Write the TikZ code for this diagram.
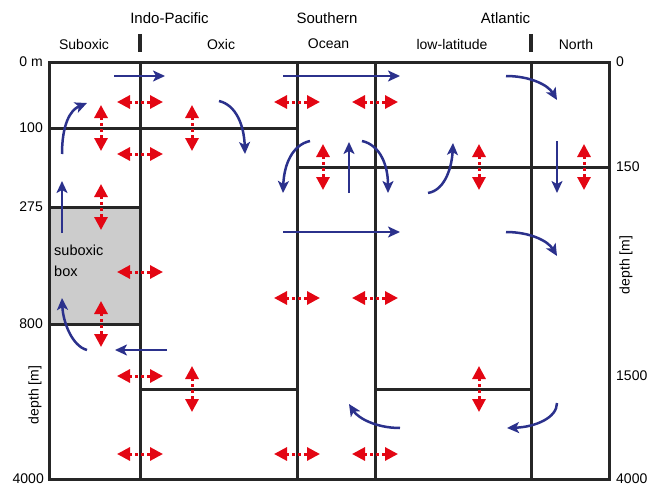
\documentclass[tikz,border=0pt]{standalone}
\usepackage{fontspec}
\setmainfont{Liberation Sans}
\usetikzlibrary{arrows.meta}
\definecolor{navy}{RGB}{43,49,140}
\definecolor{rd}{RGB}{227,6,19}
\definecolor{boxgray}{RGB}{204,204,204}
\tikzset{
  wall/.style={line width=3pt, black!85},
  blue arrow/.style={navy, line width=2.5pt, -{Stealth[length=12pt,width=11pt,inset=3pt]}},
  mix/.style={rd, line width=3pt, dash pattern=on 3pt off 3pt,
     {Triangle[length=13pt,width=13pt]}-{Triangle[length=13pt,width=13pt]}},
  lab/.style={font=\fontsize{14}{16}\selectfont, inner sep=0pt},
  head/.style={font=\fontsize{15}{17}\selectfont, inner sep=0pt},
}
\newcommand{\hmix}[2]{\draw[mix] (#1-23,#2) -- (#1+23,#2);}
\newcommand{\vmix}[2]{\draw[mix] (#1,#2-23) -- (#1,#2+23);}
\begin{document}
\begin{tikzpicture}[x=1pt,y=-1pt]
\useasboundingbox (0,0) rectangle (658,487);
% suboxic box fill
\fill[boxgray] (49,207) rectangle (140,324);
% outer box and walls
\draw[wall] (49,63) rectangle (609,479);
\draw[wall] (140,63) -- (140,479);
\draw[wall] (297,63) -- (297,479);
\draw[wall] (375,63) -- (375,479);
\draw[wall] (531,63) -- (531,479);
\draw[wall] (49,128) -- (297,128);
\draw[wall] (297,167) -- (609,167);
\draw[wall] (49,207) -- (140,207);
\draw[wall] (49,324) -- (140,324);
\draw[wall] (140,389) -- (297,389);
\draw[wall] (375,389) -- (531,389);
% header ticks
\draw[wall, line width=3.5pt] (140,34) -- (140,52);
\draw[wall, line width=3.5pt] (531,34) -- (531,52);
% headers
\node[head] (hip) at (169.5,18) {Indo-Pacific};
\node[head] (hso) at (327,18) {Southern};
\node[head] (hat) at (505.5,18) {Atlantic};
\node[lab] (hsub) at (84,44) {Suboxic};
\node[lab] (hox) at (221,44) {Oxic};
\node[lab] (hoc) at (328.5,44) {Ocean};
\node[lab] (hll) at (452,44) {low-latitude};
\node[lab] (hno) at (576,44) {North};
% left axis
\node[lab, anchor=east] (l0) at (43,62) {0 m};
\node[lab, anchor=east] (l100) at (43,128) {100};
\node[lab, anchor=east] (l275) at (43,207) {275};
\node[lab, anchor=east] (l800) at (43,324) {800};
\node[lab, anchor=east] (l4000) at (44,479) {4000};
\node[lab, rotate=90] (ldep) at (35,395) {depth [m]};
% right axis
\node[lab, anchor=west] (r0) at (616,62) {0};
\node[lab, anchor=west] (r150) at (616,167) {150};
\node[lab, anchor=west] (r1500) at (616,376) {1500};
\node[lab, anchor=west] (r4000) at (616,479) {4000};
\node[lab, rotate=90] (rdep) at (626,265) {depth [m]};
% suboxic box label
\node[lab, anchor=north west, align=left, font=\fontsize{14.5}{21}\selectfont] (sbox) at (54,245) {suboxic\\box};
% blue advection arrows
\draw[blue arrow] (114,76) -- (165,76);
\draw[blue arrow] (283,76) -- (400,76);
\draw[blue arrow] (283,232) -- (400,232);
\draw[blue arrow] (167,350) -- (115,350);
\draw[blue arrow] (62,233) -- (62,181);
\draw[blue arrow] (349,193) -- (349,142);
\draw[blue arrow] (557,141) -- (557,193);
\draw[blue arrow] (62,154) .. controls (62,125) and (70,110) .. (87,103);
\draw[blue arrow] (219,101) .. controls (236,105) and (244,125) .. (245,154);
\draw[blue arrow] (310,141) .. controls (292,145) and (284,165) .. (283,193);
\draw[blue arrow] (362,141) .. controls (380,145) and (388,165) .. (388,193);
\draw[blue arrow] (428,193) .. controls (446,190) and (452,165) .. (453,143);
\draw[blue arrow] (506,76) .. controls (530,76) and (548,85) .. (557,100);
\draw[blue arrow] (506,232) .. controls (530,232) and (548,241) .. (557,256);
\draw[blue arrow] (87,350) .. controls (72,346) and (63,322) .. (62,298);
\draw[blue arrow] (400,428) .. controls (376,428) and (358,418) .. (349,404);
\draw[blue arrow] (557,403) .. controls (557,418) and (535,427) .. (507,428);
% red mixing arrows, horizontal
\hmix{140}{102}
\hmix{140}{154}
\hmix{297}{102}
\hmix{375}{102}
\hmix{140}{272}
\hmix{297}{298}
\hmix{375}{298}
\hmix{140}{376}
\hmix{140}{454}
\hmix{297}{454}
\hmix{375}{454}
% red mixing arrows, vertical
\vmix{101}{128}
\vmix{192}{128}
\vmix{101}{207}
\vmix{323}{167}
\vmix{479}{167}
\vmix{584}{167}
\vmix{101}{324}
\vmix{192}{389}
\vmix{479}{389}
\end{tikzpicture}
\end{document}
